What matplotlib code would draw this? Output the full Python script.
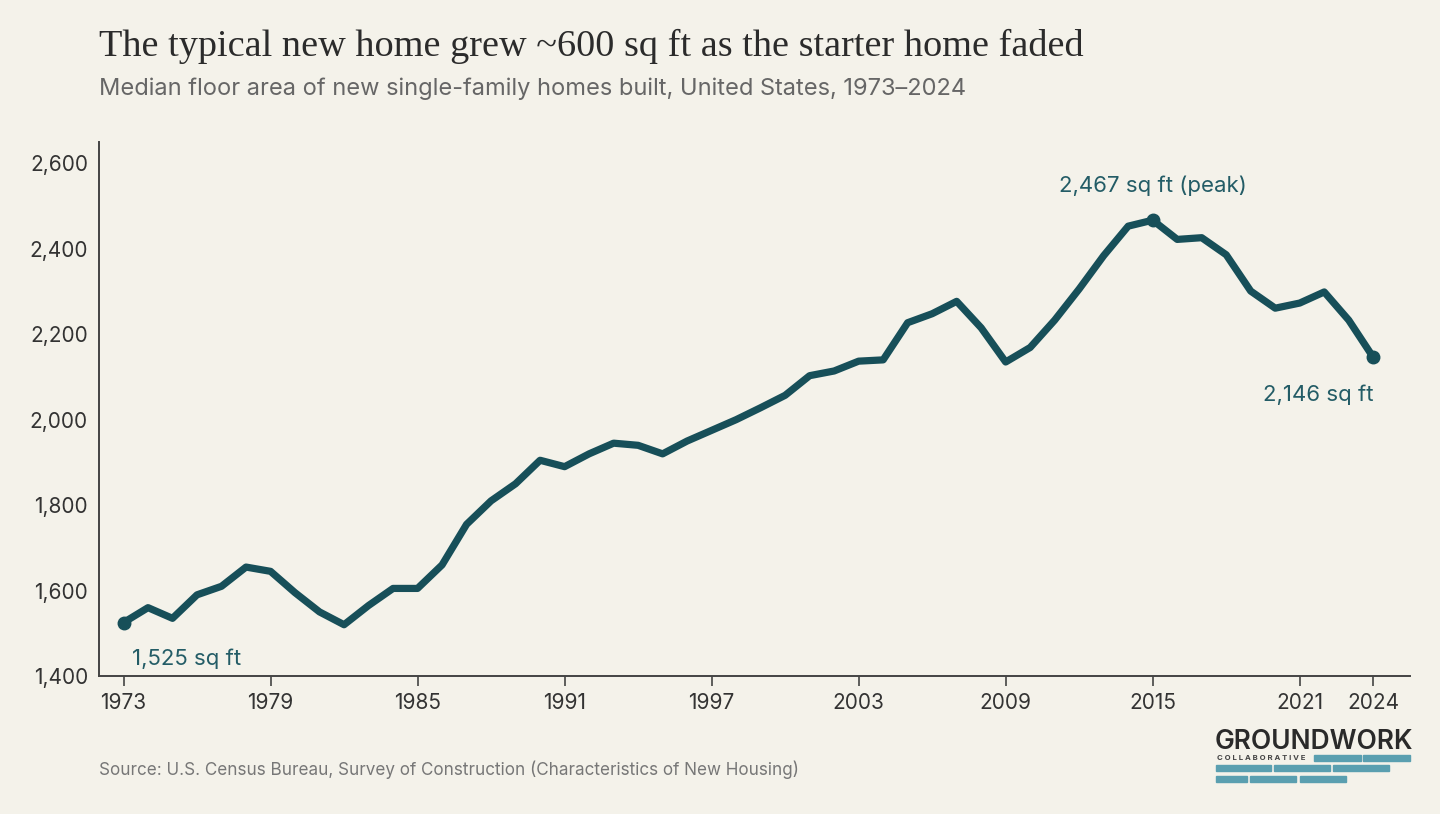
import numpy as np
import matplotlib
matplotlib.use("Agg")
import matplotlib.pyplot as plt
from matplotlib.patches import Rectangle

years = list(range(1973, 2025))
sqft = [1525, 1560, 1535, 1590, 1610, 1655, 1645, 1595, 1550, 1520,
        1565, 1605, 1605, 1660, 1755, 1810, 1850, 1905, 1890, 1920,
        1945, 1940, 1920, 1950, 1975, 2000, 2028, 2057, 2103, 2114,
        2137, 2140, 2227, 2248, 2277, 2215, 2135, 2169, 2233, 2306,
        2384, 2453, 2467, 2422, 2426, 2386, 2301, 2261, 2273, 2299,
        2233, 2146]
xticks = [1973, 1979, 1985, 1991, 1997, 2003, 2009, 2015, 2021, 2024]
yticks = [1400, 1600, 1800, 2000, 2200, 2400, 2600]

bg = "#f4f2ea"
line_c = "#174f59"
note_c = "#235c66"
text_c = "#333333"

plt.rcParams['font.family'] = ['Inter', 'DejaVu Sans']

fig = plt.figure(figsize=(14.4, 8.14), dpi=100, facecolor=bg)
ax = fig.add_axes([99/1440, 1 - 676/814, (1410-99)/1440, (676-142)/814])
ax.set_facecolor(bg)

ax.plot(years, sqft, color=line_c, lw=5.2, solid_capstyle='round', solid_joinstyle='round')
ax.plot([years[0], years[-1]], [sqft[0], sqft[-1]], 'o', color=line_c, ms=9)
ipk = int(np.argmax(sqft))
ax.plot(years[ipk], sqft[ipk], 'o', color=line_c, ms=9)

ax.text(1973.35, sqft[0] - 85, f"{sqft[0]:,} sq ft", color=note_c, fontsize=16, ha='left', va='center')
ax.text(years[ipk], sqft[ipk] + 80, f"{sqft[ipk]:,} sq ft (peak)", color=note_c, fontsize=16, ha='center', va='center')
ax.text(years[-1], sqft[-1] - 88, f"{sqft[-1]:,} sq ft", color=note_c, fontsize=16, ha='right', va='center')

ax.set_xlim(1972.0, 2025.5)
ax.set_ylim(1400, 2650)
ax.set_xticks(xticks)
ax.set_yticks(yticks)
ax.set_yticklabels([f"{v:,}" for v in yticks])
ax.tick_params(axis='x', length=7, width=1.2, color='#444444', labelsize=15, labelcolor=text_c, pad=5)
ax.tick_params(axis='y', length=0, labelsize=15, labelcolor=text_c, pad=8)
for s in ['top', 'right']:
    ax.spines[s].set_visible(False)
for s in ['left', 'bottom']:
    ax.spines[s].set_color('#444444')
    ax.spines[s].set_linewidth(1.4)

fig.text(99/1440, 1 - 46/814, "The typical new home grew ~600 sq ft as the starter home faded",
         family=['Liberation Serif', 'DejaVu Serif'], fontsize=27.5, color='#2b2b2b', va='center')
fig.text(99/1440, 1 - 89/814, "Median floor area of new single-family homes built, United States, 1973\u20132024",
         fontsize=17, color='#666666', va='center')
fig.text(99/1440, 1 - 770/814, "Source: U.S. Census Bureau, Survey of Construction (Characteristics of New Housing)",
         fontsize=12.3, color='#777777', va='center')

# logo
fig.text(1215/1440, 1 - 742/814, "GROUNDWORK", fontsize=19, fontweight='semibold', color='#2a2a2a', va='center')
fig.text(1217/1440, 1 - 758/814, "C O L L A B O R A T I V E", fontsize=5.6, fontweight='bold', color='#444444', va='center')
blue = "#5a9fb0"
bricks = [(1314, 755, 47), (1363, 755, 47),
          (1216, 765, 55), (1274, 765, 56), (1333, 765, 56),
          (1216, 776, 31), (1250, 776, 46), (1300, 776, 46)]
for bx, by, bw in bricks:
    fig.patches.append(Rectangle((bx/1440, 1 - (by+6)/814), bw/1440, 6/814,
                                 transform=fig.transFigure, color=blue))

fig.savefig("out.png", dpi=100, facecolor=bg)
